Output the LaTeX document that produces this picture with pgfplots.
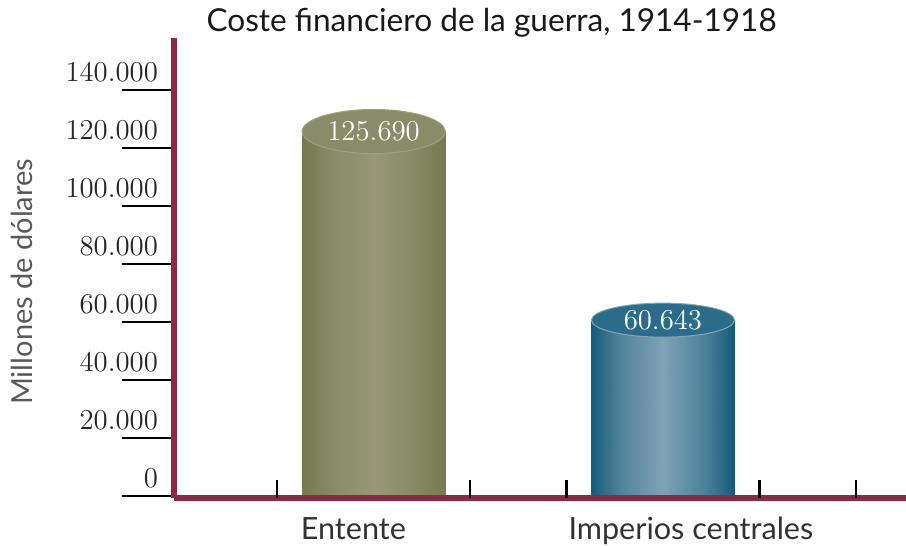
\documentclass[border=0pt]{standalone}
\usepackage{pgfplots}
\pgfplotsset{compat=1.18}
\usepackage{fontspec}
\newfontfamily\sans{Lato}
\usetikzlibrary{shapes.geometric}
\definecolor{axred}{RGB}{140,42,68}
\definecolor{oliveL}{RGB}{160,160,126}
\definecolor{oliveT}{RGB}{138,139,104}
\definecolor{tealL}{RGB}{130,165,185}
\definecolor{tealT}{RGB}{42,108,138}
\pgfplotsset{
  colormap={olivemap}{rgb255=(118,121,81) rgb255=(152,152,118)},
  colormap={tealmap}{rgb255=(20,92,122) rgb255=(128,162,182)},
}
\begin{document}
\begin{tikzpicture}
\useasboundingbox (-87pt,-24pt) rectangle (366pt,249pt);
\begin{axis}[
  at={(0,0)}, anchor=south west,
  scale only axis, width=366pt, height=230pt,
  xmin=-1.07, xmax=6.52, ymin=-690, ymax=157931,
  axis x line=bottom, axis y line=left,
  axis line style={draw=axred, line width=2.6pt, -},
  axis on top,
  clip=false,
  ytick={0,20000,40000,60000,80000,100000,120000,140000},
  scaled y ticks=false,
  /pgf/number format/fixed, /pgf/number format/precision=0,
  /pgf/number format/1000 sep={.},
  tick align=outside,
  major tick length=26pt,
  ytick style={black, line width=1.3pt},
  yticklabel style={font=\fontsize{15}{18}\selectfont, text=black!85, anchor=base east, yshift=4pt, xshift=21.5pt},
  xtick={0.79,4.29}, xticklabels={Entente,Imperios centrales},
  xtick style={draw=none},
  xticklabel style={font=\sans\fontsize{15.3}{18}\selectfont, text=black!80, anchor=base, yshift=5.5pt},
  extra x ticks={0,2,3,5,6}, extra x tick labels={},
  extra x tick style={tick align=inside, major tick length=9pt, xtick style={draw=black, line width=1.1pt}},
  ylabel={Millones de dólares},
  ylabel style={font=\sans\fontsize{14.5}{17}\selectfont, text=black!65, at={(axis description cs:-0.2077,0.47)}, anchor=center},
  title={Coste financiero de la guerra, 1914-1918},
  title style={font=\sans\fontsize{15.8}{18}\selectfont, text=black!90, at={(axis description cs:0.434,1.0074)}, anchor=center},
  point meta min=0, point meta max=1,
]
% Entente bar body (cylinder shading via colormap)
\addplot[surf, shader=interp, colormap name=olivemap, point meta=explicit,
  mesh/ordering=x varies, mesh/cols=5]
  table[meta=c] {
x      y      c
0.2586 0      0
0.5552 0      0.55
1.0    0      1
1.4448 0      0.5
1.7414 0      0
0.2586 125690 0
0.5552 125690 0.55
1.0    125690 1
1.4448 125690 0.5
1.7414 125690 0
};
% Imperios centrales bar body
\addplot[surf, shader=interp, colormap name=tealmap, point meta=explicit,
  mesh/ordering=x varies, mesh/cols=5]
  table[meta=c] {
x      y     c
3.2586 0     0
3.5552 0     0.55
4.0    0     1
4.4448 0     0.5
4.7414 0     0
3.2586 60643 0
3.5552 60643 0.55
4.0    60643 1
4.4448 60643 0.5
4.7414 60643 0
};
% caps with values
\addplot[draw=none, mark=none, nodes near coords,
  every node near coord/.append style={ellipse, minimum width=71.5pt, minimum height=22pt, inner sep=0pt,
    fill=oliveT, draw=oliveL, line width=0.5pt, anchor=center, text=white, font=\fontsize{15}{18}\selectfont}]
  coordinates {(1,125690)};
\addplot[draw=none, mark=none, nodes near coords,
  every node near coord/.append style={ellipse, minimum width=71.5pt, minimum height=17pt, inner sep=0pt,
    fill=tealT, draw=tealL, line width=0.5pt, anchor=center, text=white, font=\fontsize{15}{18}\selectfont}]
  coordinates {(4,60643)};
\end{axis}
\end{tikzpicture}
\end{document}
